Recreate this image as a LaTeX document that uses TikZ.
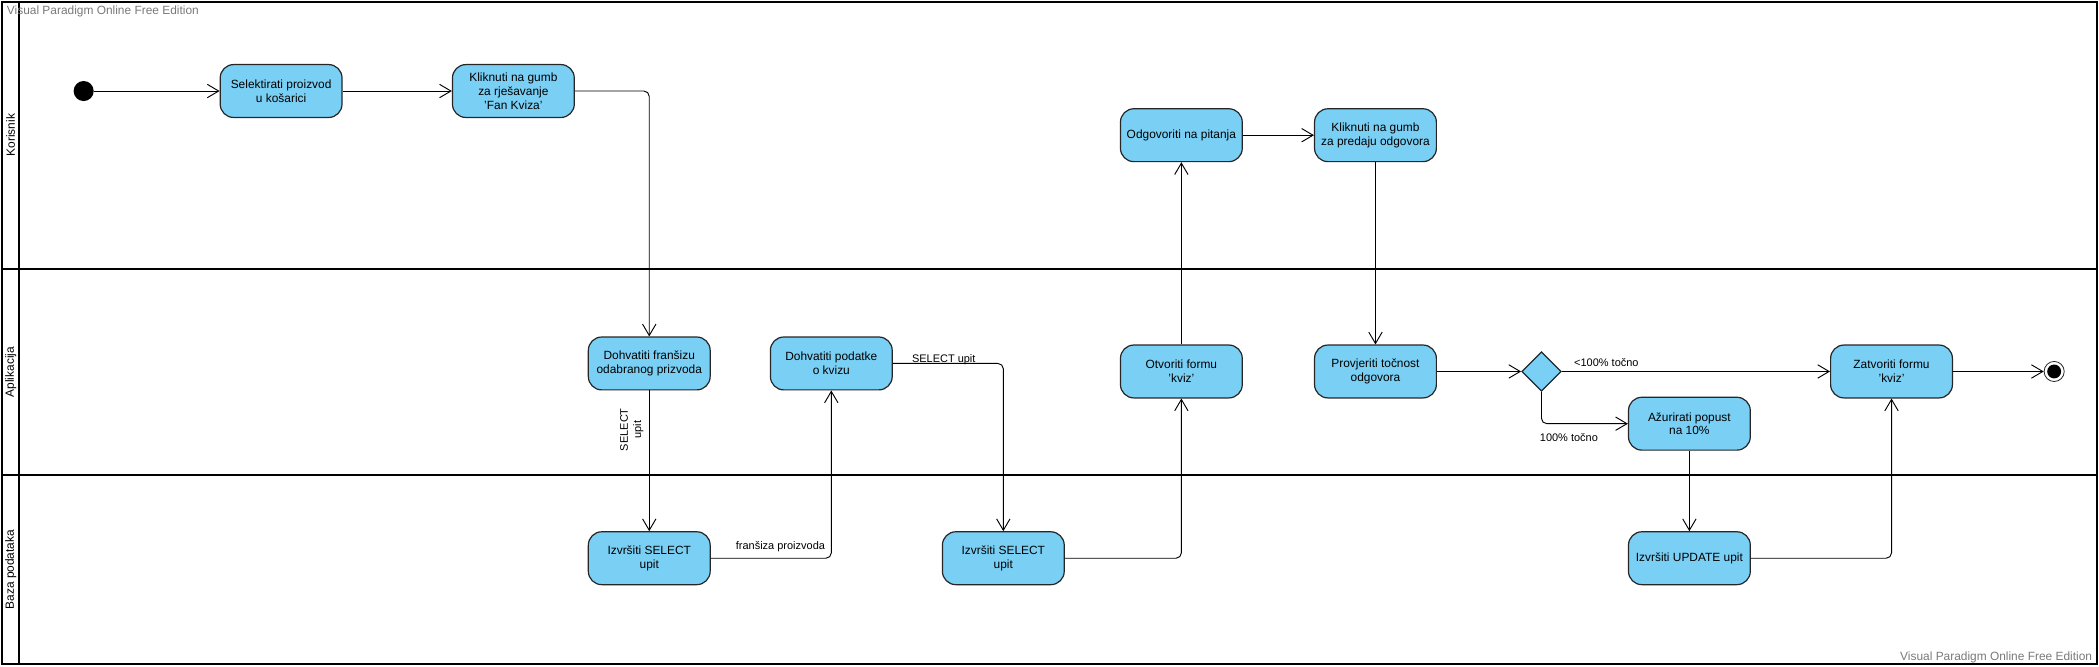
\documentclass[tikz,border=0pt]{standalone}
\usepackage{fontspec}
\setmainfont{Liberation Sans}
\usetikzlibrary{arrows.meta,shapes.geometric}

\definecolor{actfill}{RGB}{122,207,245}
\definecolor{wmgray}{RGB}{120,120,120}

\tikzset{
  act/.style={draw=black!85, line width=0.9pt, fill=actfill, rounded corners=10pt,
    minimum width=91pt, minimum height=39.5pt, inner sep=2pt, align=center,
    font=\fontsize{8.9}{10.3}\selectfont},
  flow/.style={-{Straight Barb[length=8.5pt,width=10pt]}, line width=0.7pt, rounded corners=4pt},
  lbl/.style={inner sep=1pt, font=\fontsize{8.2}{10}\selectfont},
  lane/.style={line width=1.4pt},
  lanename/.style={rotate=90, inner sep=0pt, font=\fontsize{8.9}{10}\selectfont},
  wmark/.style={inner sep=0pt, text=wmgray, font=\fontsize{8.9}{10}\selectfont}
}

\begin{document}
\begin{tikzpicture}[x=1pt,y=-1pt]
\useasboundingbox (0,0) rectangle (1568,498);

% swimlanes
\draw [lane] (1.5,1.3) rectangle (1566.5,496);
\draw [lane] (14,1.3) -- (14,496);
\draw [lane] (1.5,201) -- (1566.5,201);
\draw [lane] (1.5,355) -- (1566.5,355);
\node [lanename] (laneK) at (8,101) {Korisnik};
\node [lanename] (laneA) at (8,278) {Aplikacija};
\node [lanename] (laneB) at (8,425.5) {Baza podataka};
\node [wmark, anchor=west] (wmTop) at (5,8.7) {Visual Paradigm Online Free Edition};
\node [wmark, anchor=east] (wmBot) at (1563,491) {Visual Paradigm Online Free Edition};

% activities
\node [circle, fill=black, minimum size=15pt, inner sep=0pt] (start) at (62.5,68) {};
\node [act] (sel) at (210,68) {Selektirati proizvod\\u košarici};
\node [act] (klik) at (383.5,68) {Kliknuti na gumb\\za rješavanje\\'Fan Kviza'};
\node [act] (fran) at (485,271.5) {Dohvatiti franšizu\\odabranog prizvoda};
\node [act] (kvizpod) at (621,271.5) {Dohvatiti podatke\\o kvizu};
\node [act] (sqlA) at (485,417) {Izvršiti SELECT\\upit};
\node [act] (sqlB) at (749.5,417) {Izvršiti SELECT\\upit};
\node [act] (otvori) at (882.5,277.5) {Otvoriti formu\\'kviz'};
\node [act] (odg) at (882.5,101) {Odgovoriti na pitanja};
\node [act] (predaj) at (1027.5,101) {Kliknuti na gumb\\za predaju odgovora};
\node [act] (provj) at (1027.5,277.5) {Provjeriti točnost\\odgovora};
\node [diamond, draw=black!85, line width=0.9pt, fill=actfill, aspect=1, minimum size=29.5pt, inner sep=0pt] (odluka) at (1151.5,277.5) {};
\node [act] (zatvori) at (1413,277.5) {Zatvoriti formu\\'kviz'};
\node [act] (popust) at (1262,316.5) {Ažurirati popust\\na 10\%};
\node [act] (update) at (1262,417) {Izvršiti UPDATE upit};
\node [circle, draw=black!85, line width=0.6pt, minimum size=15pt, inner sep=0pt,
  path picture={\fill (path picture bounding box.center) circle (5.2pt);}] (kraj) at (1534.5,277.5) {};

% flows
\draw [flow] (start) -- (sel);
\draw [flow] (sel) -- (klik);
\draw [flow] (klik.east) -| (fran.north);
\draw [flow] (fran) -- (sqlA);
\draw [flow] (sqlA.east) -| (kvizpod.south);
\draw [flow] (kvizpod.east) -| (sqlB.north);
\draw [flow] (sqlB.east) -| (otvori.south);
\draw [flow] (otvori) -- (odg);
\draw [flow] (odg) -- (predaj);
\draw [flow] (predaj) -- (provj);
\draw [flow] (provj) -- (odluka);
\draw [flow] (odluka) -- (zatvori);
\draw [flow] (odluka.south) |- (popust.west);
\draw [flow] (popust) -- (update);
\draw [flow] (update.east) -| (zatvori.south);
\draw [flow] (zatvori) -- (kraj);

% guards
\node [lbl, rotate=90, align=center] (gSel) at (472,321) {SELECT\\upit};
\node [lbl] (gFran) at (583,408) {franšiza proizvoda};
\node [lbl] (gKviz) at (705,269) {SELECT upit};
\node [lbl] (gManje) at (1200,271) {<100\% točno};
\node [lbl] (gPuno) at (1172,326.5) {100\% točno};
\end{tikzpicture}
\end{document}
